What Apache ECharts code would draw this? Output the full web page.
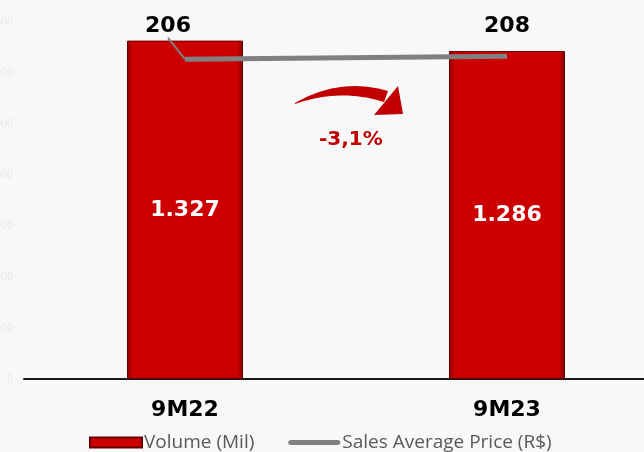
<!DOCTYPE html>
<html><head><meta charset="utf-8">
<script src="https://cdn.jsdelivr.net/npm/echarts@6/dist/echarts.min.js"></script>
<style>html,body{margin:0;padding:0;background:#f8f8f8}#c{width:644px;height:452px}</style>
</head><body><div id="c"></div>
<script>
const categories = ['9M22', '9M23'];
const volume = [1327, 1286];
const avgPrice = [206, 208];
const yTicks = [0, 200, 400, 600, 800, 1000, 1200, 1400];
const changeLabel = '-3,1%';

function quad(p0, p1, p2, n) {
  const out = [];
  for (let i = 0; i <= n; i++) {
    const t = i / n, a = (1 - t) * (1 - t), b = 2 * (1 - t) * t, c = t * t;
    out.push([a * p0[0] + b * p1[0] + c * p2[0], a * p0[1] + b * p1[1] + c * p2[1]]);
  }
  return out;
}
const arrowBody = quad([295, 103], [340, 77], [388, 91], 20)
  .concat(quad([384, 102], [340, 88], [295, 104], 20));

const chart = echarts.init(document.getElementById('c'));
const fmt = v => v.toLocaleString('de-DE');
chart.setOption({
  backgroundColor: '#f8f8f8',
  animation: false,
  grid: { left: 24, top: 22, width: 644, height: 357, outerBoundsMode: 'none', containLabel: false },
  xAxis: {
    type: 'category', data: categories,
    axisLine: { lineStyle: { color: '#1a1a1a', width: 2 } },
    axisTick: { show: false },
    axisLabel: { margin: 20, color: '#000', fontWeight: 'bold', fontSize: 22, fontFamily: 'DejaVu Sans' }
  },
  yAxis: [{
    type: 'value', min: yTicks[0], max: yTicks[yTicks.length - 1], interval: 200,
    splitLine: { show: false }, axisLine: { show: false }, axisTick: { show: false },
    axisLabel: { color: '#e8e8e8', fontSize: 11, margin: 11, formatter: v => fmt(v) }
  }, {
    type: 'value', min: 0, max: 230, show: false, splitLine: { show: false }
  }],
  legend: {
    left: 84, top: 428, itemGap: 34, itemWidth: 52, itemHeight: 10,
    textStyle: { color: '#595959', fontSize: 19, fontFamily: 'Open Sans', padding: [0, 0, 0, -3] },
    data: [
      { name: 'Volume (Mil)', icon: 'rect' },
      { name: 'Sales Average Price (R$)', icon: 'path://M2.5,0 L49.5,0 A2.5,2.5 0 0 1 49.5,5 L2.5,5 A2.5,2.5 0 0 1 2.5,0 Z',
        itemStyle: { color: '#808080', borderWidth: 0 } }
    ]
  },
  series: [{
    name: 'Volume (Mil)', type: 'bar', data: volume, barWidth: 116,
    itemStyle: {
      color: new echarts.graphic.LinearGradient(0, 0, 1, 0, [
        { offset: 0, color: '#8e0000' }, { offset: 0.05, color: '#cc0000' },
        { offset: 0.95, color: '#cc0000' }, { offset: 1, color: '#7e0000' }]),
      borderColor: '#6a0000', borderWidth: 1
    },
    label: { show: true, position: 'inside', color: '#fff', fontWeight: 'bold', fontSize: 22,
      fontFamily: 'DejaVu Sans', formatter: p => fmt(p.value) }
  }, {
    name: 'Sales Average Price (R$)', type: 'line', yAxisIndex: 1,
    data: avgPrice.map((v, i) => ({ value: v, labelLine: { show: i === 0 } })),
    symbol: 'circle', symbolSize: 1, showSymbol: true,
    lineStyle: { color: '#808080', width: 5 }, itemStyle: { color: '#808080' },
    label: { show: true, position: 'top', distance: 20, color: '#000', fontWeight: 'bold',
      fontSize: 22, fontFamily: 'DejaVu Sans' },
    labelLayout: p => p.dataIndex === 0 ? { dx: -17, dy: -1 } : { dy: 2 },
    labelLine: { show: false, lineStyle: { color: '#808080', width: 2 } }
  }],
  graphic: [{
    type: 'polygon',
    shape: { points: arrowBody },
    style: { fill: '#c00000' }
  }, {
    type: 'polygon',
    shape: { points: [[398, 86], [403, 114], [374, 115]] },
    style: { fill: '#c00000' }
  }, {
    type: 'text', left: 319, top: 130,
    style: { text: changeLabel, fill: '#c00000', font: 'bold 20px DejaVu Sans' }
  }]
});
</script></body></html>
